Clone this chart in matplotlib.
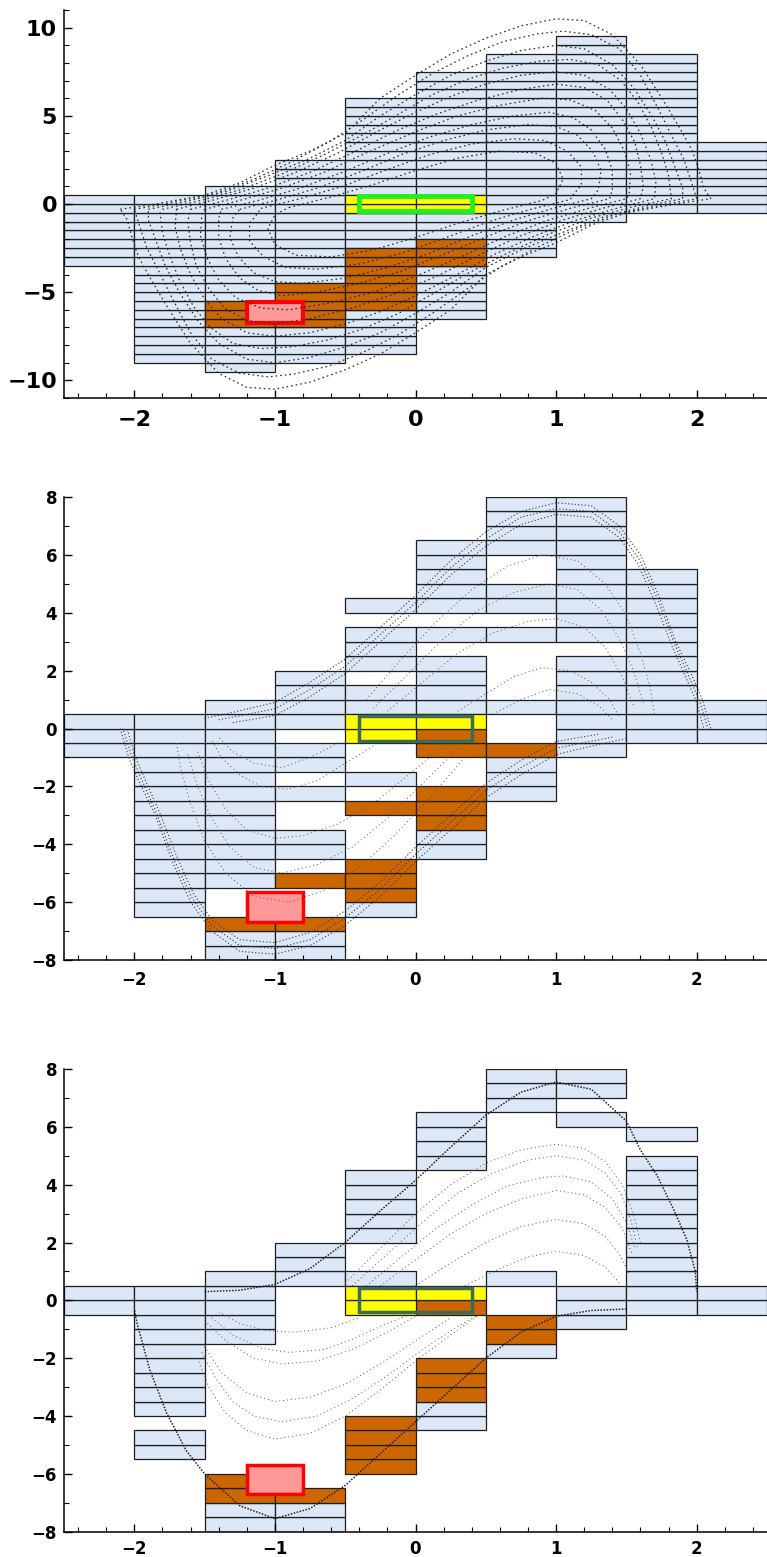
import matplotlib
matplotlib.use('Agg')
import matplotlib.pyplot as plt
from matplotlib.ticker import MultipleLocator
import numpy as np

# grid cells: columns 0.5 wide, cells 0.5 tall; runs = (column left, y bottom, y top)
top_blue = [(-2.5, -3.5, 0.5), (-2.0, -9.0, 0.5), (-1.5, -9.5, 1.0), (-1.0, -9.0, 2.5),
            (-0.5, -8.5, 6.0), (0.0, -6.5, 7.5), (0.5, -3.0, 8.5), (1.0, -1.0, 9.5),
            (1.5, -0.5, 8.5), (2.0, -0.5, 3.5)]
top_orange = [(-1.5, -7.0, -5.5), (-1.0, -7.0, -4.5), (-0.5, -6.0, -2.5), (0.0, -3.5, -2.0)]
top_yellow = [(-0.5, -0.5, 0.5), (0.0, -0.5, 0.5)]

mid_blue = [(-2.5, -1.0, 0.5), (-2.0, -6.5, 0.5), (-1.5, -5.5, 1.0), (-1.5, -8.0, -7.0),
            (-1.0, 0.0, 2.0), (-1.0, -1.5, -0.5), (-1.0, -2.5, -2.0), (-1.0, -4.5, -3.5),
            (-1.0, -8.0, -7.0), (-0.5, 4.0, 4.5), (-0.5, 2.0, 3.5), (-0.5, 0.5, 1.5),
            (-0.5, -2.0, -1.5), (-0.5, -6.5, -6.0), (0.0, 4.0, 6.5), (0.0, 3.0, 3.5),
            (0.0, 0.5, 2.5), (0.0, -4.5, -3.5), (0.5, 6.0, 8.0), (0.5, 4.0, 5.0),
            (0.5, 3.0, 3.5), (0.5, 0.5, 1.0), (0.5, -2.5, -1.0), (1.0, 3.0, 8.0),
            (1.0, -1.0, 2.5), (1.5, -0.5, 5.5), (2.0, -0.5, 1.0)]
mid_orange = [(-1.5, -7.0, -6.5), (-1.0, -5.5, -5.0), (-1.0, -7.0, -6.5), (-0.5, -3.0, -2.5),
              (-0.5, -6.0, -4.5), (0.0, -1.0, 0.0), (0.0, -3.5, -2.0), (0.5, -1.0, -0.5)]
mid_yellow = [(-0.5, -0.5, 0.5), (0.0, 0.0, 0.5)]

bot_blue = [(-2.5, -0.5, 0.5), (-2.0, -4.0, 0.5), (-2.0, -5.5, -4.5), (-1.5, -1.5, 1.0),
            (-1.5, -8.0, -7.0), (-1.0, 0.5, 2.0), (-1.0, -8.0, -7.0), (-0.5, 2.0, 4.5),
            (-0.5, 0.5, 1.0), (0.0, 4.5, 6.5), (0.0, -4.5, -3.5), (0.5, 6.5, 8.0),
            (0.5, 0.5, 1.0), (0.5, -2.0, -1.5), (1.0, 7.0, 8.0), (1.0, 6.0, 6.5),
            (1.0, -1.0, 0.5), (1.5, 5.5, 6.0), (1.5, -0.5, 5.0), (2.0, -0.5, 0.5)]
bot_orange = [(-1.5, -7.0, -6.0), (-1.0, -7.0, -6.5), (-0.5, -6.0, -4.0), (0.0, -0.5, 0.0),
              (0.0, -3.5, -2.0), (0.5, -1.5, -0.5)]
bot_yellow = [(-0.5, -0.5, 0.5), (0.0, 0.0, 0.5)]

# highlight boxes (x0, x1, y0, y1)
top_red = (-1.2, -0.8, -6.75, -5.55)
mid_red = (-1.2, -0.8, -6.7, -5.65)
bot_red = (-1.2, -0.8, -6.7, -5.68)
top_box = (-0.4, 0.4, -0.42, 0.45)
mid_box = (-0.4, 0.4, -0.42, 0.42)
bot_box = (-0.4, 0.4, -0.42, 0.42)

top_orbits = [
    [(-2.1, -0.3), (-1.85, 0.0), (-1.5, 0.5), (-1.25, 1.2), (-1.0, 2.2), (-0.75, 3.0), (-0.5, 4.0),
     (-0.25, 6.0), (0.0, 7.3), (0.25, 8.5), (0.5, 9.4), (0.75, 10.1), (1.0, 10.5), (1.2, 10.4),
     (1.4, 9.6), (1.6, 7.9), (1.76, 5.9), (1.88, 4.3), (1.97, 3.0), (2.02, 1.8), (2.05, 0.9),
     (2.1, 0.3), (1.85, 0.0), (1.5, -0.5), (1.25, -1.2), (1.0, -2.2), (0.75, -3.0), (0.5, -4.0),
     (0.25, -6.0), (0.0, -7.3), (-0.25, -8.5), (-0.5, -9.4), (-0.75, -10.1), (-1.0, -10.5),
     (-1.2, -10.4), (-1.4, -9.6), (-1.6, -7.9), (-1.76, -5.9), (-1.88, -4.3), (-1.97, -3.0),
     (-2.02, -1.8), (-2.05, -0.9), (-2.1, -0.3)],
    [(-2.0, -0.3), (-1.75, 0.05), (-1.42, 0.6), (-1.15, 1.4), (-0.88, 2.4), (-0.62, 3.5),
     (-0.37, 4.8), (-0.12, 6.2), (0.12, 7.4), (0.37, 8.4), (0.62, 9.2), (0.87, 9.65), (1.05, 9.8),
     (1.25, 9.6), (1.45, 8.8), (1.6, 7.3), (1.72, 5.5), (1.82, 3.9), (1.91, 2.5), (1.96, 1.3),
     (2.0, 0.3), (1.75, -0.05), (1.42, -0.6), (1.15, -1.4), (0.88, -2.4), (0.62, -3.5),
     (0.37, -4.8), (0.12, -6.2), (-0.12, -7.4), (-0.37, -8.4), (-0.62, -9.2), (-0.87, -9.65),
     (-1.05, -9.8), (-1.25, -9.6), (-1.45, -8.8), (-1.6, -7.3), (-1.72, -5.5), (-1.82, -3.9),
     (-1.91, -2.5), (-1.96, -1.3), (-2.0, -0.3)],
    [(-1.9, -0.3), (-1.65, 0.1), (-1.35, 0.7), (-1.05, 1.6), (-0.75, 2.6), (-0.5, 3.6), (-0.25, 5.0),
     (0.0, 6.2), (0.25, 7.3), (0.5, 8.1), (0.75, 8.7), (1.0, 9.0), (1.2, 8.8), (1.4, 7.9),
     (1.55, 6.6), (1.68, 5.0), (1.78, 3.5), (1.85, 2.0), (1.9, 0.9), (1.9, 0.3), (1.65, -0.1),
     (1.35, -0.7), (1.05, -1.6), (0.75, -2.6), (0.5, -3.6), (0.25, -5.0), (0.0, -6.2),
     (-0.25, -7.3), (-0.5, -8.1), (-0.75, -8.7), (-1.0, -9.0), (-1.2, -8.8), (-1.4, -7.9),
     (-1.55, -6.6), (-1.68, -5.0), (-1.78, -3.5), (-1.85, -2.0), (-1.9, -0.9), (-1.9, -0.3)],
    [(-1.8, -0.3), (-1.55, 0.15), (-1.25, 0.8), (-0.95, 1.7), (-0.65, 2.8), (-0.38, 3.9),
     (-0.12, 5.1), (0.12, 6.2), (0.38, 7.1), (0.62, 7.7), (0.88, 8.1), (1.1, 8.2), (1.3, 7.9),
     (1.46, 7.0), (1.58, 5.8), (1.68, 4.3), (1.75, 2.9), (1.8, 1.6), (1.82, 0.3), (1.55, -0.15),
     (1.25, -0.8), (0.95, -1.7), (0.65, -2.8), (0.38, -3.9), (0.12, -5.1), (-0.12, -6.2),
     (-0.38, -7.1), (-0.62, -7.7), (-0.88, -8.1), (-1.1, -8.2), (-1.3, -7.9), (-1.46, -7.0),
     (-1.58, -5.8), (-1.68, -4.3), (-1.75, -2.9), (-1.8, -1.6), (-1.82, -0.3)],
    [(-1.7, -0.3), (-1.45, 0.2), (-1.15, 0.9), (-0.85, 1.8), (-0.55, 2.9), (-0.25, 4.2), (0.0, 5.2),
     (0.25, 6.1), (0.5, 6.8), (0.75, 7.3), (1.0, 7.5), (1.2, 7.3), (1.38, 6.5), (1.5, 5.4),
     (1.6, 4.0), (1.67, 2.6), (1.71, 1.3), (1.7, 0.3), (1.45, -0.2), (1.15, -0.9), (0.85, -1.8),
     (0.55, -2.9), (0.25, -4.2), (0.0, -5.2), (-0.25, -6.1), (-0.5, -6.8), (-0.75, -7.3),
     (-1.0, -7.5), (-1.2, -7.3), (-1.38, -6.5), (-1.5, -5.4), (-1.6, -4.0), (-1.67, -2.6),
     (-1.71, -1.3), (-1.7, -0.3)],
    [(-1.6, -0.3), (-1.35, 0.2), (-1.05, 0.9), (-0.75, 1.8), (-0.45, 2.9), (-0.15, 4.1),
     (0.15, 5.1), (0.45, 5.9), (0.75, 6.5), (1.0, 6.8), (1.2, 6.6), (1.36, 5.9), (1.47, 4.8),
     (1.56, 3.5), (1.6, 2.2), (1.62, 1.0), (1.6, 0.3), (1.35, -0.2), (1.05, -0.9), (0.75, -1.8),
     (0.45, -2.9), (0.15, -4.1), (-0.15, -5.1), (-0.45, -5.9), (-0.75, -6.5), (-1.0, -6.8),
     (-1.2, -6.6), (-1.36, -5.9), (-1.47, -4.8), (-1.56, -3.5), (-1.6, -2.2), (-1.62, -1.0),
     (-1.6, -0.3)],
    [(-1.5, -0.3), (-1.25, 0.2), (-0.95, 0.9), (-0.65, 1.8), (-0.35, 2.9), (0.0, 4.1), (0.3, 5.0),
     (0.6, 5.6), (0.9, 6.0), (1.1, 5.9), (1.28, 5.3), (1.4, 4.3), (1.48, 3.1), (1.53, 1.8),
     (1.52, 0.6), (1.5, 0.3), (1.25, -0.2), (0.95, -0.9), (0.65, -1.8), (0.35, -2.9), (0.0, -4.1),
     (-0.3, -5.0), (-0.6, -5.6), (-0.9, -6.0), (-1.1, -5.9), (-1.28, -5.3), (-1.4, -4.3),
     (-1.48, -3.1), (-1.53, -1.8), (-1.52, -0.6), (-1.5, -0.3)],
    [(-1.38, -0.3), (-1.12, 0.2), (-0.82, 0.9), (-0.52, 1.8), (-0.22, 2.8), (0.1, 3.8), (0.4, 4.5),
     (0.7, 5.0), (0.95, 5.2), (1.12, 4.9), (1.25, 4.2), (1.35, 3.1), (1.4, 1.9), (1.4, 0.8),
     (1.38, 0.3), (1.12, -0.2), (0.82, -0.9), (0.52, -1.8), (0.22, -2.8), (-0.1, -3.8),
     (-0.4, -4.5), (-0.7, -5.0), (-0.95, -5.2), (-1.12, -4.9), (-1.25, -4.2), (-1.35, -3.1),
     (-1.4, -1.9), (-1.4, -0.8), (-1.38, -0.3)],
    [(-1.25, -0.3), (-1.0, 0.2), (-0.7, 0.9), (-0.4, 1.8), (-0.1, 2.8), (0.2, 3.6), (0.5, 4.2),
     (0.8, 4.5), (1.0, 4.4), (1.15, 3.9), (1.26, 3.0), (1.32, 1.9), (1.3, 0.8), (1.25, 0.3),
     (1.0, -0.2), (0.7, -0.9), (0.4, -1.8), (0.1, -2.8), (-0.2, -3.6), (-0.5, -4.2), (-0.8, -4.5),
     (-1.0, -4.4), (-1.15, -3.9), (-1.26, -3.0), (-1.32, -1.9), (-1.3, -0.8), (-1.25, -0.3)],
    [(-1.1, -0.25), (-0.82, 0.3), (-0.52, 1.0), (-0.22, 1.9), (0.1, 2.8), (0.4, 3.4), (0.7, 3.7),
     (0.92, 3.6), (1.08, 3.0), (1.18, 2.1), (1.18, 1.1), (1.12, 0.5), (1.1, 0.25), (0.82, -0.3),
     (0.52, -1.0), (0.22, -1.9), (-0.1, -2.8), (-0.4, -3.4), (-0.7, -3.7), (-0.92, -3.6),
     (-1.08, -3.0), (-1.18, -2.1), (-1.18, -1.1), (-1.12, -0.5), (-1.1, -0.25)],
    [(-0.9, -0.2), (-0.6, 0.4), (-0.3, 1.1), (0.0, 1.9), (0.3, 2.6), (0.6, 3.0), (0.85, 2.9),
     (1.0, 2.3), (1.05, 1.4), (1.0, 0.6), (0.9, 0.2), (0.6, -0.4), (0.3, -1.1), (0.0, -1.9),
     (-0.3, -2.6), (-0.6, -3.0), (-0.85, -2.9), (-1.0, -2.3), (-1.05, -1.4), (-1.0, -0.6),
     (-0.9, -0.2)],
]

mid_bands = [
    [(-1.5, 0.35), (-1.35, 0.5), (-1.0, 0.9), (-0.75, 1.6), (-0.5, 2.4), (-0.25, 3.5), (0.0, 4.6),
     (0.25, 5.8), (0.5, 6.8), (0.75, 7.5), (1.0, 7.8), (1.25, 7.7), (1.45, 7.0), (1.6, 6.0),
     (1.73, 4.6), (1.85, 3.0), (1.96, 1.9), (2.04, 1.0), (2.1, 0.0)],
    [(-1.4, 0.3), (-1.0, 0.68), (-0.75, 1.35), (-0.5, 2.15), (-0.25, 3.25), (0.0, 4.35),
     (0.25, 5.55), (0.5, 6.55), (0.75, 7.3), (1.0, 7.6), (1.25, 7.5), (1.45, 6.8), (1.59, 5.85),
     (1.72, 4.5), (1.84, 2.95), (1.94, 1.85), (2.02, 0.95), (2.08, 0.0)],
    [(-1.3, 0.2), (-1.0, 0.45), (-0.75, 1.1), (-0.5, 1.9), (-0.25, 3.0), (0.0, 4.1), (0.25, 5.3),
     (0.5, 6.3), (0.75, 7.05), (1.0, 7.4), (1.25, 7.3), (1.45, 6.6), (1.58, 5.7), (1.7, 4.4),
     (1.82, 2.9), (1.92, 1.8), (2.0, 0.9), (2.05, 0.0)],
    [(1.5, -0.35), (1.35, -0.5), (1.0, -0.9), (0.75, -1.6), (0.5, -2.4), (0.25, -3.5), (0.0, -4.6),
     (-0.25, -5.8), (-0.5, -6.8), (-0.75, -7.5), (-1.0, -7.8), (-1.25, -7.7), (-1.45, -7.0),
     (-1.6, -6.0), (-1.73, -4.6), (-1.85, -3.0), (-1.96, -1.9), (-2.04, -1.0), (-2.1, 0.0)],
    [(1.4, -0.3), (1.0, -0.68), (0.75, -1.35), (0.5, -2.15), (0.25, -3.25), (0.0, -4.35),
     (-0.25, -5.55), (-0.5, -6.55), (-0.75, -7.3), (-1.0, -7.6), (-1.25, -7.5), (-1.45, -6.8),
     (-1.59, -5.85), (-1.72, -4.5), (-1.84, -2.95), (-1.94, -1.85), (-2.02, -0.95), (-2.08, 0.0)],
    [(1.3, -0.2), (1.0, -0.45), (0.75, -1.1), (0.5, -1.9), (0.25, -3.0), (0.0, -4.1), (-0.25, -5.3),
     (-0.5, -6.3), (-0.75, -7.05), (-1.0, -7.4), (-1.25, -7.3), (-1.45, -6.6), (-1.58, -5.7),
     (-1.7, -4.4), (-1.82, -2.9), (-1.92, -1.8), (-2.0, -0.9), (-2.05, 0.0)],
]
mid_arcs = [
    [(-0.35, 1.0), (-0.1, 2.4), (0.15, 3.7), (0.4, 4.8), (0.65, 5.6), (0.9, 6.0), (1.15, 5.8),
     (1.35, 5.0), (1.5, 3.9), (1.6, 2.6), (1.67, 1.4), (1.7, 0.5)],
    [(-0.3, 0.7), (-0.05, 1.9), (0.2, 3.1), (0.45, 4.1), (0.7, 4.7), (0.95, 5.0), (1.15, 4.8),
     (1.32, 4.1), (1.45, 3.1), (1.55, 2.0), (1.62, 0.9)],
    [(-0.2, 0.6), (0.05, 1.6), (0.3, 2.6), (0.55, 3.3), (0.8, 3.7), (1.0, 3.8), (1.2, 3.5),
     (1.35, 2.8), (1.47, 1.8), (1.55, 0.8)],
    [(0.3, 0.6), (0.5, 1.2), (0.7, 1.8), (0.9, 2.1), (1.1, 2.0), (1.25, 1.6), (1.38, 1.0), (1.45, 0.4)],
    [(0.55, 0.5), (0.75, 1.0), (0.95, 1.35), (1.15, 1.2), (1.3, 0.8), (1.4, 0.3)],
    [(0.35, -1.0), (0.1, -2.4), (-0.15, -3.7), (-0.4, -4.8), (-0.65, -5.6), (-0.9, -6.0),
     (-1.15, -5.8), (-1.35, -5.0), (-1.5, -3.9), (-1.6, -2.6), (-1.67, -1.4), (-1.7, -0.5)],
    [(0.3, -0.7), (0.05, -1.9), (-0.2, -3.1), (-0.45, -4.1), (-0.7, -4.7), (-0.95, -5.0),
     (-1.15, -4.8), (-1.32, -4.1), (-1.45, -3.1), (-1.55, -2.0), (-1.62, -0.9)],
    [(0.2, -0.6), (-0.05, -1.6), (-0.3, -2.6), (-0.55, -3.3), (-0.8, -3.7), (-1.0, -3.8),
     (-1.2, -3.5), (-1.35, -2.8), (-1.47, -1.8), (-1.55, -0.8)],
    [(-0.3, -0.6), (-0.5, -1.2), (-0.7, -1.8), (-0.9, -2.1), (-1.1, -2.0), (-1.25, -1.6),
     (-1.38, -1.0), (-1.45, -0.4)],
    [(-0.55, -0.5), (-0.75, -1.0), (-0.95, -1.35), (-1.15, -1.2), (-1.3, -0.8), (-1.4, -0.3)],
]

bot_bands = [
    [(-1.5, 0.3), (-1.25, 0.35), (-1.0, 0.55), (-0.75, 1.1), (-0.5, 2.0), (-0.25, 3.1), (0.0, 4.15),
     (0.25, 5.3), (0.5, 6.4), (0.75, 7.2), (1.0, 7.55), (1.25, 7.3), (1.5, 6.2), (1.6, 5.2),
     (1.72, 4.3), (1.84, 3.1), (1.93, 2.1), (1.99, 1.0), (2.0, 0.3)],
    [(1.5, -0.3), (1.25, -0.35), (1.0, -0.55), (0.75, -1.1), (0.5, -2.0), (0.25, -3.1), (0.0, -4.2),
     (-0.25, -5.3), (-0.5, -6.4), (-0.75, -7.2), (-1.0, -7.55), (-1.25, -7.1), (-1.5, -6.0),
     (-1.63, -5.2), (-1.77, -3.9), (-1.89, -2.4), (-1.98, -0.8), (-2.0, -0.3)],
]
bot_arcs = [
    [(-0.5, 0.6), (-0.25, 1.8), (0.0, 3.0), (0.25, 4.0), (0.5, 4.75), (0.75, 5.2), (1.0, 5.4),
     (1.2, 5.25), (1.35, 4.8), (1.47, 4.0), (1.55, 3.0), (1.6, 2.0)],
    [(-0.45, 0.5), (-0.2, 1.6), (0.05, 2.7), (0.3, 3.7), (0.55, 4.4), (0.8, 4.85), (1.0, 5.0),
     (1.2, 4.85), (1.35, 4.4), (1.46, 3.7), (1.53, 2.8), (1.58, 1.8)],
    [(-0.35, 0.5), (-0.1, 1.5), (0.15, 2.5), (0.4, 3.3), (0.65, 3.95), (0.9, 4.25), (1.05, 4.3),
     (1.25, 4.1), (1.4, 3.5), (1.5, 2.7), (1.56, 1.8)],
    [(-0.25, 0.5), (0.0, 1.4), (0.25, 2.3), (0.5, 3.0), (0.75, 3.5), (1.0, 3.8), (1.2, 3.65),
     (1.35, 3.2), (1.47, 2.5), (1.54, 1.6)],
    [(0.0, 0.5), (0.25, 1.3), (0.5, 2.0), (0.75, 2.55), (1.0, 2.8), (1.2, 2.65), (1.35, 2.2),
     (1.45, 1.6), (1.52, 0.9)],
    [(0.35, 0.5), (0.6, 1.1), (0.8, 1.5), (1.0, 1.7), (1.2, 1.55), (1.35, 1.15), (1.45, 0.6)],
    [(-1.55, -2.0), (-1.47, -3.0), (-1.35, -3.9), (-1.2, -4.5), (-1.0, -4.8), (-0.75, -4.6),
     (-0.5, -4.0), (-0.25, -3.1), (0.0, -2.1), (0.25, -1.2), (0.45, -0.5)],
    [(-1.52, -1.8), (-1.42, -2.7), (-1.3, -3.5), (-1.15, -4.0), (-0.95, -4.2), (-0.7, -4.0),
     (-0.45, -3.4), (-0.2, -2.6), (0.05, -1.7), (0.3, -0.9), (0.45, -0.5)],
    [(-1.5, -1.6), (-1.38, -2.5), (-1.2, -3.2), (-1.0, -3.5), (-0.75, -3.35), (-0.5, -2.9),
     (-0.25, -2.2), (0.0, -1.4), (0.25, -0.6)],
    [(-1.5, -0.7), (-1.35, -1.4), (-1.15, -2.0), (-0.95, -2.2), (-0.7, -2.1), (-0.45, -1.7),
     (-0.2, -1.1), (0.0, -0.55)],
    [(-1.45, -0.6), (-1.3, -1.2), (-1.1, -1.65), (-0.9, -1.8), (-0.65, -1.7), (-0.45, -1.35),
     (-0.25, -0.9), (-0.05, -0.5)],
    [(-1.4, -0.4), (-1.25, -0.8), (-1.05, -1.05), (-0.85, -1.1), (-0.6, -0.95), (-0.4, -0.6)],
]

BLUE = '#dce8f7'
ORANGE = '#cc6600'
YELLOW = '#ffff00'
EDGE = '#1e1e1e'

W, H = 767, 1557
fig = plt.figure(figsize=(W / 100, H / 100), dpi=100)


def cells(ax, runs, color):
    for x, y0, y1 in runs:
        bottoms = np.arange(y0, y1 - 1e-9, 0.5)
        ax.bar(np.full(len(bottoms), x), 0.5, width=0.5, bottom=bottoms, align='edge',
               color=color, edgecolor=EDGE, linewidth=0.9, zorder=1)


def box(ax, b, fc, ec, lw):
    ax.fill([b[0], b[1], b[1], b[0]], [b[2], b[2], b[3], b[3]], facecolor=fc,
            edgecolor=ec, linewidth=lw, zorder=3, joinstyle='miter')


def curves(ax, pts_list, color, lw, dash):
    for pts in pts_list:
        xs = [p[0] for p in pts]
        ys = [p[1] for p in pts]
        ax.plot(xs, ys, color=color, lw=lw, linestyle=(0, dash), zorder=4)


def style(ax, ylim, ymaj, fs, xpad):
    ax.set_xlim(-2.5, 2.5)
    ax.set_ylim(*ylim)
    for s in ('top', 'right'):
        ax.spines[s].set_visible(False)
    for s in ('left', 'bottom'):
        ax.spines[s].set_linewidth(1.1)
    ax.xaxis.set_major_locator(MultipleLocator(1))
    ax.xaxis.set_minor_locator(MultipleLocator(0.2))
    ax.yaxis.set_major_locator(MultipleLocator(ymaj))
    ax.yaxis.set_minor_locator(MultipleLocator(1))
    ax.tick_params(which='major', direction='in', length=6, width=1)
    ax.tick_params(axis='y', which='major', pad=5)
    ax.tick_params(axis='x', which='major', pad=xpad)
    ax.tick_params(which='minor', direction='in', length=3.5, width=0.8)
    for lab in ax.get_xticklabels() + ax.get_yticklabels():
        lab.set_fontsize(fs)
        lab.set_fontweight('bold')


# top panel
ax1 = fig.add_axes([64 / W, 1 - 398 / H, 703 / W, 388 / H])
cells(ax1, top_blue, BLUE)
cells(ax1, top_orange, ORANGE)
cells(ax1, top_yellow, YELLOW)
box(ax1, top_red, '#ff9999', '#ff0000', 3)
box(ax1, top_box, 'none', '#22ee22', 3.5)
curves(ax1, top_orbits, '#2a2a2a', 0.9, (1.3, 2.4))
style(ax1, (-11, 11), 5, 16, 9)

# middle panel
ax2 = fig.add_axes([64 / W, 1 - 960 / H, 703 / W, 463 / H])
cells(ax2, mid_blue, BLUE)
cells(ax2, mid_orange, ORANGE)
cells(ax2, mid_yellow, YELLOW)
box(ax2, mid_red, '#ff9999', '#ff0000', 2.5)
box(ax2, mid_box, 'none', '#3d6b56', 2.5)
curves(ax2, mid_arcs, '#555555', 0.7, (1, 3))
curves(ax2, mid_bands, '#383838', 0.8, (1, 2))
style(ax2, (-8, 8), 2, 12, 8)

# bottom panel
ax3 = fig.add_axes([64 / W, 1 - 1531.7 / H, 703 / W, 462.7 / H])
cells(ax3, bot_blue, BLUE)
cells(ax3, bot_orange, ORANGE)
cells(ax3, bot_yellow, YELLOW)
box(ax3, bot_red, '#ff9999', '#ff0000', 2.5)
box(ax3, bot_box, 'none', '#3d6b56', 2.5)
curves(ax3, bot_arcs, '#555555', 0.7, (1, 3))
curves(ax3, bot_bands, '#222222', 1.1, (1, 1))
style(ax3, (-8, 8), 2, 12, 6)

fig.savefig('out.png', dpi=100)
